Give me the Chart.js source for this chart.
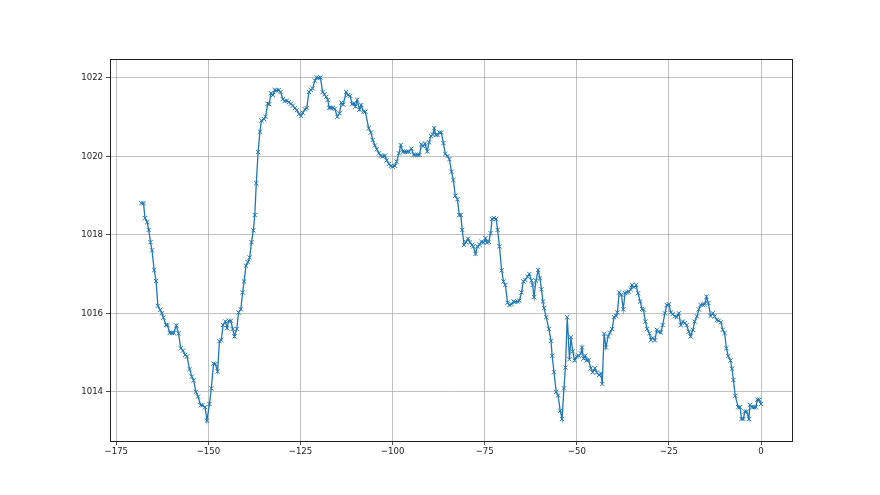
<!DOCTYPE html>
<html>
<head>
<meta charset="utf-8">
<script src="https://cdn.jsdelivr.net/npm/chart.js@4/dist/chart.umd.min.js"></script>
<style>
  html, body { margin: 0; padding: 0; background: #fff; }
  #wrap { width: 880px; height: 495px; }
</style>
</head>
<body>
<div id="wrap"><canvas id="pressureChart" width="880" height="495"></canvas></div>
<script>
// minutes before now
const minutes = [
  -168.2, -167.6, -167.2, -166.6, -166.2, -165.7, -165.3, -164.7, -164.2, -163.7,
  -163.1, -162.6, -162.2, -161.5, -161.1, -160.5, -159.9, -159.4, -158.7, -158.1,
  -157.5, -156.9, -156.3, -155.8, -155.1, -154.5, -154.0, -153.4, -152.8, -152.1,
  -151.6, -150.9, -150.4, -149.7, -149.2, -148.6, -148.1, -147.5, -147.0, -146.5,
  -146.0, -145.4, -144.9, -144.5, -143.9, -143.4, -142.9, -142.3, -141.8, -141.2,
  -140.7, -140.3, -139.8, -139.3, -138.8, -138.3, -137.8, -137.4, -137.0, -136.5,
  -136.0, -135.6, -134.9, -134.5, -133.9, -133.5, -133.0, -132.5, -132.0, -131.5,
  -130.9, -130.4, -129.8, -129.3, -128.7, -128.2, -127.6, -127.1, -126.5, -126.0,
  -125.4, -124.9, -124.4, -123.8, -123.3, -122.7, -122.2, -121.7, -121.1, -120.6,
  -120.1, -119.6, -119.0, -118.5, -118.0, -117.6, -117.2, -116.8, -116.2, -115.7,
  -115.0, -114.4, -113.9, -113.4, -112.6, -112.1, -111.5, -111.0, -110.4, -110.1,
  -109.6, -109.0, -108.5, -107.9, -107.4, -106.5, -105.9, -105.4, -104.8, -104.3,
  -103.7, -103.2, -102.7, -102.1, -101.6, -101.0, -100.5, -100.0, -99.4, -98.9,
  -98.3, -97.8, -97.2, -96.7, -96.1, -95.6, -94.9, -94.3, -93.8, -93.2,
  -92.7, -92.2, -91.7, -91.2, -90.6, -90.1, -89.6, -89.1, -88.7, -88.3,
  -87.8, -87.3, -86.8, -86.2, -85.7, -85.1, -84.6, -84.0, -83.5, -83.0,
  -82.4, -81.9, -81.5, -81.1, -80.6, -80.1, -79.5, -79.0, -78.4, -78.1,
  -77.5, -77.0, -76.4, -75.9, -75.3, -74.8, -74.4, -73.9, -73.4, -73.0,
  -72.5, -71.9, -71.5, -71.0, -70.4, -69.9, -69.4, -68.8, -68.3, -67.7,
  -67.2, -66.7, -66.1, -65.6, -65.0, -64.5, -64.0, -63.4, -62.9, -62.3,
  -62.0, -61.6, -61.1, -60.5, -60.0, -59.6, -59.2, -58.9, -58.3, -57.6,
  -57.0, -56.7, -56.2, -55.6, -55.1, -54.5, -54.0, -53.5, -53.1, -52.6,
  -52.0, -51.6, -51.1, -50.6, -50.0, -49.5, -48.9, -48.6, -48.2, -47.7,
  -47.3, -46.8, -46.2, -45.7, -45.1, -44.6, -44.0, -43.5, -43.1, -42.6,
  -42.1, -41.5, -41.0, -40.4, -39.9, -39.3, -39.0, -38.5, -37.9, -37.4,
  -36.9, -36.4, -35.9, -35.4, -35.0, -34.5, -33.9, -33.4, -32.8, -32.3,
  -31.9, -31.4, -30.9, -30.3, -29.9, -29.4, -28.8, -28.3, -27.8, -27.2,
  -26.7, -26.1, -25.6, -25.0, -24.5, -24.0, -23.4, -22.9, -22.3, -21.8,
  -21.2, -20.7, -20.2, -19.6, -19.1, -18.5, -18.0, -17.4, -16.9, -16.4,
  -15.8, -15.3, -14.8, -14.3, -13.7, -13.1, -12.6, -12.0, -11.5, -10.9,
  -10.4, -9.9, -9.4, -8.9, -8.3, -7.9, -7.5, -7.0, -6.2, -5.7,
  -5.3, -4.8, -4.4, -3.9, -3.3, -3.0, -2.4, -1.9, -1.4, -1.0,
  -0.5, 0.0
];

// pressure readings (hPa)
const pressure = [
  1018.80, 1018.80, 1018.42, 1018.32, 1018.12, 1017.81, 1017.60, 1017.10, 1016.82, 1016.19,
  1016.09, 1016.00, 1015.89, 1015.70, 1015.70, 1015.50, 1015.50, 1015.50, 1015.69, 1015.49,
  1015.11, 1015.05, 1014.94, 1014.90, 1014.58, 1014.39, 1014.29, 1014.00, 1013.88, 1013.66,
  1013.66, 1013.61, 1013.27, 1013.69, 1014.09, 1014.72, 1014.71, 1014.52, 1015.29, 1015.32,
  1015.70, 1015.79, 1015.62, 1015.81, 1015.81, 1015.60, 1015.41, 1015.60, 1016.02, 1016.10,
  1016.53, 1016.81, 1017.21, 1017.30, 1017.42, 1017.81, 1018.11, 1018.50, 1019.31, 1020.10,
  1020.62, 1020.90, 1020.94, 1021.00, 1021.33, 1021.32, 1021.60, 1021.55, 1021.68, 1021.67,
  1021.68, 1021.63, 1021.45, 1021.40, 1021.41, 1021.37, 1021.33, 1021.28, 1021.22, 1021.17,
  1021.07, 1021.02, 1021.10, 1021.19, 1021.22, 1021.63, 1021.68, 1021.72, 1021.92, 1022.00,
  1021.99, 1022.00, 1021.63, 1021.57, 1021.51, 1021.43, 1021.23, 1021.23, 1021.23, 1021.20,
  1021.00, 1021.09, 1021.36, 1021.31, 1021.63, 1021.55, 1021.53, 1021.32, 1021.34, 1021.26,
  1021.43, 1021.18, 1021.30, 1021.13, 1021.13, 1020.71, 1020.60, 1020.41, 1020.27, 1020.17,
  1020.07, 1020.01, 1019.99, 1020.01, 1019.89, 1019.80, 1019.75, 1019.73, 1019.75, 1019.86,
  1020.07, 1020.28, 1020.11, 1020.11, 1020.11, 1020.11, 1020.19, 1020.03, 1020.03, 1020.03,
  1020.03, 1020.30, 1020.25, 1020.32, 1020.12, 1020.35, 1020.51, 1020.55, 1020.71, 1020.54,
  1020.54, 1020.60, 1020.60, 1020.33, 1020.05, 1020.00, 1019.92, 1019.60, 1019.39, 1018.99,
  1018.90, 1018.50, 1018.50, 1018.12, 1017.74, 1017.81, 1017.90, 1017.80, 1017.74, 1017.70,
  1017.51, 1017.70, 1017.74, 1017.82, 1017.80, 1017.91, 1017.80, 1017.82, 1018.04, 1018.40,
  1018.42, 1018.40, 1018.12, 1017.70, 1017.09, 1016.81, 1016.72, 1016.27, 1016.21, 1016.23,
  1016.30, 1016.29, 1016.30, 1016.32, 1016.53, 1016.81, 1016.85, 1016.93, 1017.00, 1016.83,
  1016.72, 1016.41, 1016.83, 1017.10, 1016.89, 1016.61, 1016.30, 1016.13, 1015.90, 1015.60,
  1015.30, 1014.92, 1014.50, 1014.00, 1013.91, 1013.52, 1013.31, 1014.09, 1014.62, 1015.90,
  1014.83, 1015.39, 1015.03, 1014.80, 1014.90, 1014.92, 1014.98, 1015.13, 1014.85, 1014.92,
  1014.80, 1014.81, 1014.60, 1014.50, 1014.60, 1014.49, 1014.43, 1014.47, 1014.20, 1015.48,
  1015.13, 1015.41, 1015.51, 1015.60, 1015.90, 1015.93, 1016.02, 1016.53, 1016.47, 1016.10,
  1016.51, 1016.53, 1016.55, 1016.61, 1016.72, 1016.66, 1016.72, 1016.51, 1016.30, 1016.11,
  1016.09, 1015.79, 1015.60, 1015.49, 1015.32, 1015.37, 1015.31, 1015.58, 1015.53, 1015.51,
  1015.70, 1016.00, 1016.21, 1016.23, 1016.02, 1015.98, 1015.92, 1015.90, 1016.00, 1015.70,
  1015.79, 1015.75, 1015.70, 1015.53, 1015.41, 1015.58, 1015.79, 1015.92, 1016.10, 1016.21,
  1016.22, 1016.23, 1016.42, 1016.26, 1015.93, 1016.00, 1015.92, 1015.83, 1015.81, 1015.77,
  1015.58, 1015.50, 1015.11, 1014.91, 1014.80, 1014.59, 1014.30, 1013.90, 1013.61, 1013.61,
  1013.31, 1013.31, 1013.50, 1013.50, 1013.31, 1013.67, 1013.61, 1013.61, 1013.61, 1013.80,
  1013.80, 1013.69
];

const xTicks = [-175, -150, -125, -100, -75, -50, -25, 0];
const xTickLabels = ['\u2212175', '\u2212150', '\u2212125', '\u2212100', '\u221275', '\u221250', '\u221225', '0'];
const yTicks = [1014, 1016, 1018, 1020, 1022];
const yTickLabels = ['1014', '1016', '1018', '1020', '1022'];

const blue = '#1f77b4';
const tickFont = { family: "'Liberation Sans Narrow', 'DejaVu Sans Condensed', 'DejaVu Sans'", size: 9.5 };

// matplotlib-style box around the axes
const frame = {
  id: 'frame',
  afterDraw(chart) {
    const { ctx, chartArea: a } = chart;
    ctx.save();
    ctx.strokeStyle = '#222';
    ctx.lineWidth = 1;
    ctx.strokeRect(Math.round(a.left) + 0.5, Math.round(a.top) + 0.5,
      Math.round(a.right - a.left), Math.round(a.bottom - a.top));
    ctx.restore();
  }
};

new Chart(document.getElementById('pressureChart'), {
  type: 'line',
  data: {
    datasets: [{
      data: minutes.map((m, i) => ({ x: m, y: pressure[i] })),
      borderColor: blue,
      borderWidth: 1.3,
      tension: 0,
      fill: false,
      pointStyle: 'crossRot',
      pointRadius: 3,
      pointBorderWidth: 1,
      pointBorderColor: blue,
      pointBackgroundColor: blue
    }]
  },
  options: {
    responsive: false,
    animation: false,
    devicePixelRatio: 1,
    layout: { padding: { left: 0, top: 59, right: 88, bottom: 0 } },
    plugins: { legend: { display: false }, tooltip: { enabled: false } },
    scales: {
      x: {
        type: 'linear',
        min: -176.7,
        max: 8.4,
        afterBuildTicks: s => { s.ticks = xTicks.map(v => ({ value: v })); },
        afterFit: s => { s.height = 54; },
        grid: { color: '#b0b0b0', lineWidth: 0.8, tickColor: '#222', tickLength: 4 },
        border: { color: '#222', width: 1 },
        ticks: {
          font: tickFont, color: '#222', padding: 1, maxRotation: 0,
          callback: v => xTickLabels[xTicks.indexOf(v)]
        }
      },
      y: {
        type: 'linear',
        min: 1012.75,
        max: 1022.47,
        afterBuildTicks: s => { s.ticks = yTicks.map(v => ({ value: v })); },
        afterFit: s => { s.width = 110; },
        grid: { color: '#b0b0b0', lineWidth: 0.8, tickColor: '#222', tickLength: 4 },
        border: { color: '#222', width: 1 },
        ticks: {
          font: tickFont, color: '#222', padding: 3,
          callback: v => yTickLabels[yTicks.indexOf(v)]
        }
      }
    }
  },
  plugins: [frame]
});
</script>
</body>
</html>
